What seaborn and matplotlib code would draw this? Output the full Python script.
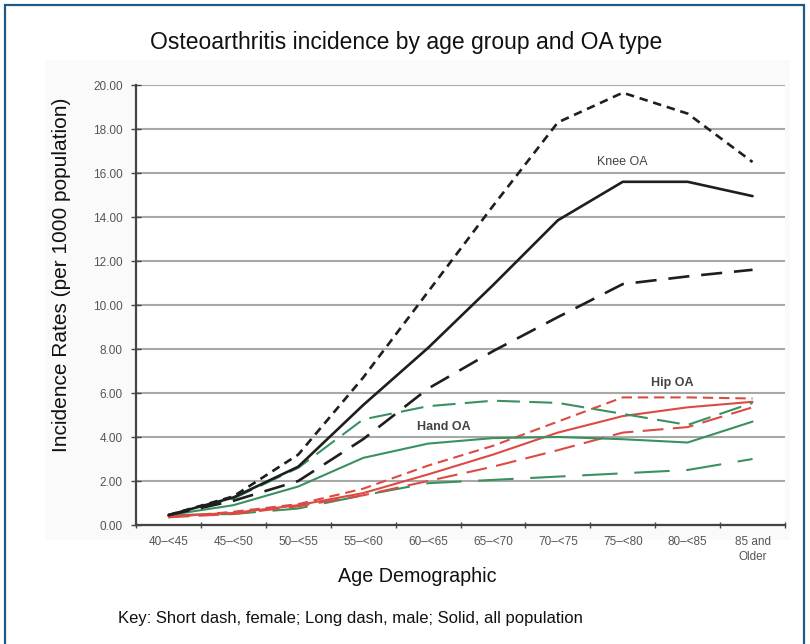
import matplotlib
matplotlib.use("Agg")
import matplotlib.pyplot as plt
import seaborn as sns
import pandas as pd
from matplotlib.patches import Rectangle

ages = ["40–<45", "45–<50", "50–<55", "55–<60", "60–<65",
        "65–<70", "70–<75", "75–<80", "80–<85", "85 and\nOlder"]

knee_female = [0.45, 1.3, 3.2, 6.7, 10.6, 14.5, 18.3, 19.65, 18.7, 16.5]
knee_male = [0.45, 1.1, 2.0, 3.9, 6.2, 7.9, 9.45, 10.95, 11.3, 11.6]
knee_all = [0.45, 1.25, 2.65, 5.45, 8.05, 10.9, 13.85, 15.6, 15.6, 14.95]

hip_female = [0.35, 0.6, 0.95, 1.65, 2.7, 3.6, 4.7, 5.8, 5.8, 5.75]
hip_male = [0.35, 0.5, 0.85, 1.35, 2.0, 2.65, 3.4, 4.2, 4.45, 5.35]
hip_all = [0.4, 0.55, 0.9, 1.45, 2.3, 3.2, 4.2, 4.95, 5.35, 5.6]

hand_female = [0.45, 1.2, 2.6, 4.8, 5.4, 5.65, 5.55, 5.05, 4.55, 5.55]
hand_male = [0.45, 0.5, 0.75, 1.35, 1.9, 2.05, 2.2, 2.35, 2.5, 3.0]
hand_all = [0.45, 0.9, 1.75, 3.05, 3.7, 3.95, 4.0, 3.9, 3.75, 4.7]

yticks = [0, 2, 4, 6, 8, 10, 12, 14, 16, 18, 20]

series = {
    "Hand male": hand_male, "Hip male": hip_male, "Hip all": hip_all,
    "Hip female": hip_female, "Hand all": hand_all, "Hand female": hand_female,
    "Knee male": knee_male, "Knee all": knee_all, "Knee female": knee_female,
}

rows = []
for name, vals in series.items():
    for i, v in enumerate(vals):
        rows.append({"series": name, "x": i, "y": v})
df = pd.DataFrame(rows)

BLACK = "#1e1e1e"
RED = "#dc4a44"
GREEN = "#3a9160"
palette = {
    "Knee female": BLACK, "Knee male": BLACK, "Knee all": BLACK,
    "Hip female": RED, "Hip male": RED, "Hip all": RED,
    "Hand female": GREEN, "Hand male": GREEN, "Hand all": GREEN,
}
dashes = {
    "Knee female": (3.2, 2.2), "Knee male": (8, 4.5), "Knee all": "",
    "Hip female": (5, 2.8), "Hip male": (10, 4.5), "Hip all": "",
    "Hand female": (11, 4.5), "Hand male": (17, 8), "Hand all": "",
}
widths = {k: (1.9 if k.startswith("Knee") else 1.5) for k in series}

sns.set_theme(style="white")
plt.rcParams["font.family"] = ["Liberation Sans", "DejaVu Sans"]

fig = plt.figure(figsize=(8.1, 6.44), dpi=100)
fig.patch.set_facecolor("white")

# faint background of the embedded chart image
fig.patches.append(Rectangle((45 / 810, 1 - 540 / 644), 745 / 810, 480 / 644,
                             transform=fig.transFigure, facecolor="#fafafa",
                             edgecolor="none", zorder=-10))
# blue frame
fig.patches.append(Rectangle((5 / 810, -0.05), 799 / 810, 1 - 5 / 644 + 0.05,
                             transform=fig.transFigure, facecolor="none",
                             edgecolor="#1d5b87", linewidth=1.6, zorder=5))

ax = fig.add_axes([136 / 810, 1 - 525 / 644, 649 / 810, 440 / 644])
ax.set_zorder(2)
ax.set_facecolor("white")

for name in series:
    sub = df[df["series"] == name]
    sns.lineplot(data=sub, x="x", y="y", ax=ax, color=palette[name],
                 linewidth=widths[name], legend=False, errorbar=None,
                 dashes=False)
    line = ax.get_lines()[-1]
    if dashes[name]:
        line.set_dashes(dashes[name])

ax.set_xlim(-0.5, 9.5)
ax.set_ylim(0, 20)
ax.set_yticks(yticks)
ax.set_yticklabels([f"{v:.2f}" for v in yticks], color="#555555", fontsize=8.5)
ax.yaxis.grid(True, color="#a8a8a8", linewidth=1.5)
ax.set_axisbelow(True)
ax.xaxis.grid(False)

ax.set_xticks(range(len(ages)))
ax.set_xticklabels(ages, color="#555555", fontsize=8.5, linespacing=1.3,
                   va="top")
ax.tick_params(axis="x", which="major", length=0, pad=8)
ax.set_xticks([i - 0.5 for i in range(len(ages) + 1)], minor=True)
ax.tick_params(axis="x", which="minor", length=5, width=1, color="#444444",
               direction="inout", bottom=True)
ax.tick_params(axis="y", which="major", length=7, width=1, color="#444444",
               direction="inout", left=True, pad=6)

for side in ["top", "right"]:
    ax.spines[side].set_visible(False)
for side in ["left", "bottom"]:
    ax.spines[side].set_color("#444444")
    ax.spines[side].set_linewidth(1.6)

ax.set_xlabel("")
ax.set_ylabel("")

ax.text(7.0, 16.5, "Knee OA", ha="center", va="center", fontsize=9,
        color="#444444")
ax.text(7.76, 6.45, "Hip OA", ha="center", va="center", fontsize=9,
        color="#444444", fontweight="bold")
ax.text(4.25, 4.45, "Hand OA", ha="center", va="center", fontsize=9,
        color="#444444", fontweight="bold")

fig.text(406 / 810, 1 - 42 / 644, "Osteoarthritis incidence by age group and OA type",
         ha="center", va="center", fontsize=16.5, color="#111111")
fig.text(62 / 810, 1 - 275 / 644, "Incidence Rates (per 1000 population)",
         ha="center", va="center", rotation=90, fontsize=15, color="#111111")
fig.text(417 / 810, 1 - 577 / 644, "Age Demographic",
         ha="center", va="center", fontsize=14.2, color="#111111")
fig.text(350 / 810, 1 - 619 / 644,
         "Key: Short dash, female; Long dash, male; Solid, all population",
         ha="center", va="center", fontsize=12, color="#111111")

fig.savefig("out.png", dpi=100)
